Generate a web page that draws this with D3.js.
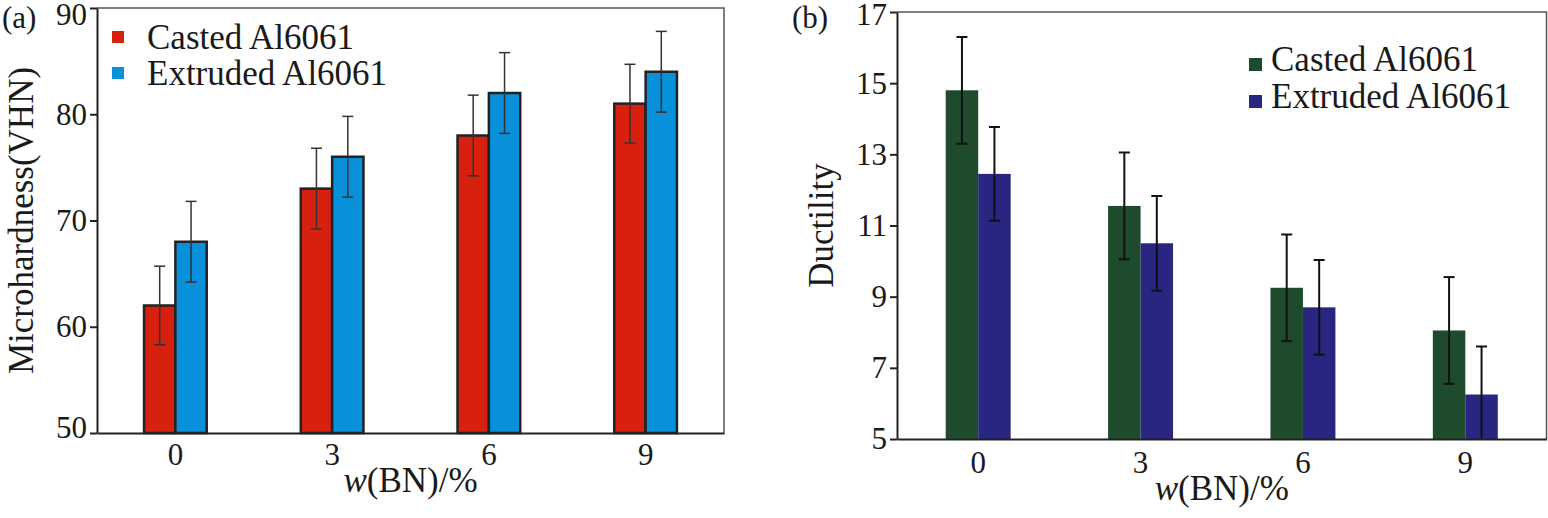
<!DOCTYPE html>
<html>
<head>
<meta charset="utf-8">
<script src="https://cdn.jsdelivr.net/npm/d3@7"></script>
<style>
  html, body { margin: 0; padding: 0; background: #fff; }
  svg { display: block; }
  svg text { font-family: 'Liberation Serif', 'Times New Roman', Times, 'DejaVu Serif', serif !important; fill: #1a1a1a; }
</style>
</head>
<body>
<div id="chart"></div>
<script>
// ===== Daten =====
const wBN = ['0', '3', '6', '9'];
const seriesNames = ['Casted Al6061', 'Extruded Al6061'];

// (a) Mikrohärte
const hardCasted = [62, 73, 78, 81];
const hardCastedErr = [3.7, 3.8, 3.8, 3.7];
const hardExtruded = [68, 76, 82, 84];
const hardExtrudedErr = [3.8, 3.8, 3.8, 3.8];
const hardTicks = [50, 60, 70, 80, 90];

// (b) Duktilität
const ductCasted = [14.8, 11.55, 9.25, 8.05];
const ductCastedErr = [1.5, 1.5, 1.5, 1.5];
const ductExtruded = [12.45, 10.5, 8.7, 6.25];
const ductExtrudedErr = [1.32, 1.33, 1.33, 1.35];
const ductTicks = [5, 7, 9, 11, 13, 15, 17];

const W = 1548, H = 518;
const FONT = "'Liberation Serif', 'Times New Roman', Times, 'DejaVu Serif', serif";

const svg = d3.select('#chart').append('svg')
  .attr('width', W)
  .attr('height', H)
  .attr('font-family', FONT);

function drawPanel(cfg) {
  const w = cfg.right - cfg.left;
  const h = cfg.bottom - cfg.top;
  const g = svg.append('g').attr('transform', `translate(${cfg.left},${cfg.top})`);

  const x0 = d3.scaleBand().domain(wBN).range([0, w]).paddingInner(0.6).paddingOuter(0.3);
  const x1 = d3.scaleBand().domain(seriesNames).range([0, x0.bandwidth()]);
  const y = d3.scaleLinear().domain(cfg.domain).range([h, 0]);

  const rows = [];
  wBN.forEach((c, i) => {
    rows.push({ cat: c, s: seriesNames[0], v: cfg.vals[0][i], e: cfg.errs[0][i] });
    rows.push({ cat: c, s: seriesNames[1], v: cfg.vals[1][i], e: cfg.errs[1][i] });
  });

  const clipId = 'clip-' + cfg.id;
  g.append('clipPath').attr('id', clipId)
    .append('rect').attr('x', 0).attr('y', 0).attr('width', w).attr('height', h);

  // Rahmen oben/rechts
  g.append('path')
    .attr('d', `M0,0H${w}V${h}`)
    .attr('fill', 'none')
    .attr('stroke', '#555')
    .attr('stroke-width', 1.5);

  // Balken
  g.append('g').selectAll('rect')
    .data(rows)
    .enter().append('rect')
    .attr('x', d => x0(d.cat) + x1(d.s))
    .attr('y', d => y(d.v))
    .attr('width', x1.bandwidth())
    .attr('height', d => h - y(d.v))
    .attr('fill', d => cfg.colors[seriesNames.indexOf(d.s)])
    .attr('stroke', cfg.barStroke || 'none')
    .attr('stroke-width', cfg.barStroke ? 2.5 : 0);

  // Fehlerbalken
  const eb = g.append('g').attr('clip-path', `url(#${clipId})`)
    .attr('stroke', cfg.errColor)
    .attr('stroke-width', cfg.errWidth)
    .selectAll('g')
    .data(rows)
    .enter().append('g')
    .attr('transform', d => `translate(${x0(d.cat) + x1(d.s) + x1.bandwidth() / 2},0)`);

  eb.append('line')
    .attr('y1', d => y(d.v + d.e))
    .attr('y2', d => y(d.v - d.e));
  eb.append('line')
    .attr('x1', -5.5).attr('x2', 5.5)
    .attr('y1', d => y(d.v + d.e)).attr('y2', d => y(d.v + d.e));
  eb.append('line')
    .attr('x1', -5.5).attr('x2', 5.5)
    .attr('y1', d => y(d.v - d.e)).attr('y2', d => y(d.v - d.e));

  // Achsen
  const yAxis = g.append('g')
    .call(d3.axisLeft(y).tickValues(cfg.ticks).tickSize(7).tickSizeOuter(0).tickPadding(3));
  yAxis.attr('font-family', FONT);
  yAxis.selectAll('text').style('font-size', '31px').attr('fill', '#1a1a1a')
    .attr('y', (d, i, n) => i === n.length - 1 ? cfg.topShift : (i === 0 ? cfg.bottomShift : 0));
  yAxis.selectAll('line').attr('stroke', '#222').attr('stroke-width', 2);
  yAxis.select('.domain').attr('stroke', '#222').attr('stroke-width', 2);

  const xAxis = g.append('g')
    .attr('transform', `translate(0,${h})`)
    .call(d3.axisBottom(x0).tickSize(0).tickPadding(cfg.xPad));
  xAxis.attr('font-family', FONT);
  xAxis.selectAll('text').style('font-size', '31px').attr('fill', '#1a1a1a');
  xAxis.select('.domain').attr('stroke', '#222').attr('stroke-width', 2);

  // Achsentitel
  const xt = svg.append('text')
    .attr('x', cfg.left + w / 2)
    .attr('y', cfg.xTitleY)
    .attr('text-anchor', 'middle')
    .style('font-size', '35px');
  xt.append('tspan').style('font-style', 'italic').text('w');
  xt.append('tspan').text('(BN)/%');

  svg.append('text')
    .attr('transform', `translate(${cfg.yTitleX},${cfg.top + h / 2}) rotate(-90)`)
    .attr('text-anchor', 'middle')
    .style('font-size', '35px')
    .text(cfg.yTitle);

  svg.append('text')
    .attr('x', cfg.tagX)
    .attr('y', 28)
    .style('font-size', '31px')
    .text(cfg.tag);

  // Legende
  const lg = svg.append('g');
  seriesNames.forEach((s, i) => {
    const by = cfg.legend.y + i * cfg.legend.dy;
    lg.append('rect')
      .attr('x', cfg.legend.sx)
      .attr('y', by - cfg.legend.sOff)
      .attr('width', cfg.legend.size)
      .attr('height', cfg.legend.size)
      .attr('fill', cfg.colors[i]);
    lg.append('text')
      .attr('x', cfg.legend.tx)
      .attr('y', by)
      .style('font-size', '35px')
      .text(s);
  });
}

drawPanel({
  id: 'a', tag: '(a)', tagX: 2,
  left: 97, top: 8, right: 724, bottom: 433,
  domain: [50, 90], ticks: hardTicks, topShift: 7, bottomShift: -5,
  vals: [hardCasted, hardExtruded], errs: [hardCastedErr, hardExtrudedErr],
  colors: ['#d8200f', '#0990da'],
  barStroke: '#222', errColor: '#333', errWidth: 1.5,
  xPad: 10, xTitleY: 492,
  yTitle: 'Microhardness(VHN)', yTitleX: 33,
  legend: { sx: 112, tx: 147, y: 49, dy: 36, size: 12, sOff: 18 }
});

drawPanel({
  id: 'b', tag: '(b)', tagX: 792,
  left: 897, top: 12, right: 1546.5, bottom: 439,
  domain: [5, 17], ticks: ductTicks, topShift: 3, bottomShift: 0,
  vals: [ductCasted, ductExtruded], errs: [ductCastedErr, ductExtrudedErr],
  colors: ['#1d4b2c', '#282680'],
  barStroke: null, errColor: '#111', errWidth: 2,
  xPad: 12, xTitleY: 500,
  yTitle: 'Ductility', yTitleX: 833,
  legend: { sx: 1249, tx: 1271, y: 71, dy: 37, size: 13, sOff: 13 }
});
</script>
</body>
</html>
